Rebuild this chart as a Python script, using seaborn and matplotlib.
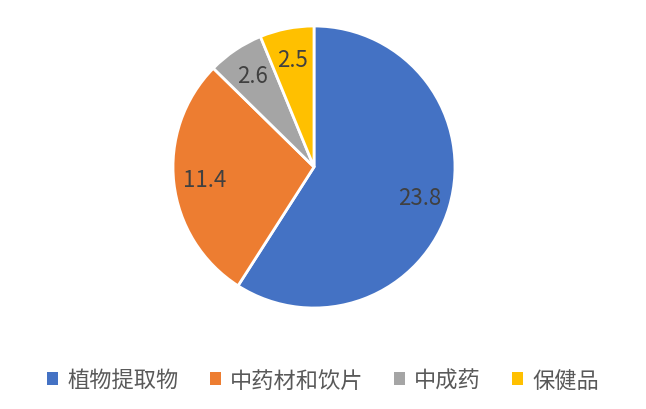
import matplotlib
matplotlib.use("Agg")
import matplotlib.pyplot as plt
import seaborn as sns
from matplotlib.patches import Patch

# data
categories = ["植物提取物", "中药材和饮片", "中成药", "保健品"]
values = [23.8, 11.4, 2.6, 2.5]
colors = ["#4472C4", "#ED7D31", "#A5A5A5", "#FFC000"]

sns.set_style("white")
plt.rcParams["font.family"] = ["Noto Sans CJK SC", "DejaVu Sans"]

fig = plt.figure(figsize=(6.46, 4.10), dpi=100)
# pie axes centred at (314, 168) px with radius ~141 px
cx, cy, r = 314 / 646, 1 - 168 / 410, 141
ax = fig.add_axes([cx - r / 646, cy - r / 410, 2 * r / 646, 2 * r / 410])

def fmt(pct):
    v = pct * sum(values) / 100
    return f"{v:.1f}"

wedges, texts, autotexts = ax.pie(
    values, colors=colors, startangle=90, counterclock=False,
    autopct=fmt, pctdistance=0.78,
    wedgeprops=dict(edgecolor="white", linewidth=2),
    textprops=dict(color="#404040", fontsize=16),
)
ax.set_xlim(-1, 1)
ax.set_ylim(-1, 1)
ax.set_aspect("equal")
ax.axis("off")

handles = [Patch(facecolor=c, edgecolor="none") for c in colors]
fig.legend(handles, categories, loc="center", bbox_to_anchor=(0.5, 1 - 381 / 410),
           ncol=4, frameon=False, fontsize=16, labelcolor="#595959",
           handlelength=0.5, handleheight=0.5, handletextpad=0.4, columnspacing=1.4)

fig.savefig("out.png", dpi=100)
